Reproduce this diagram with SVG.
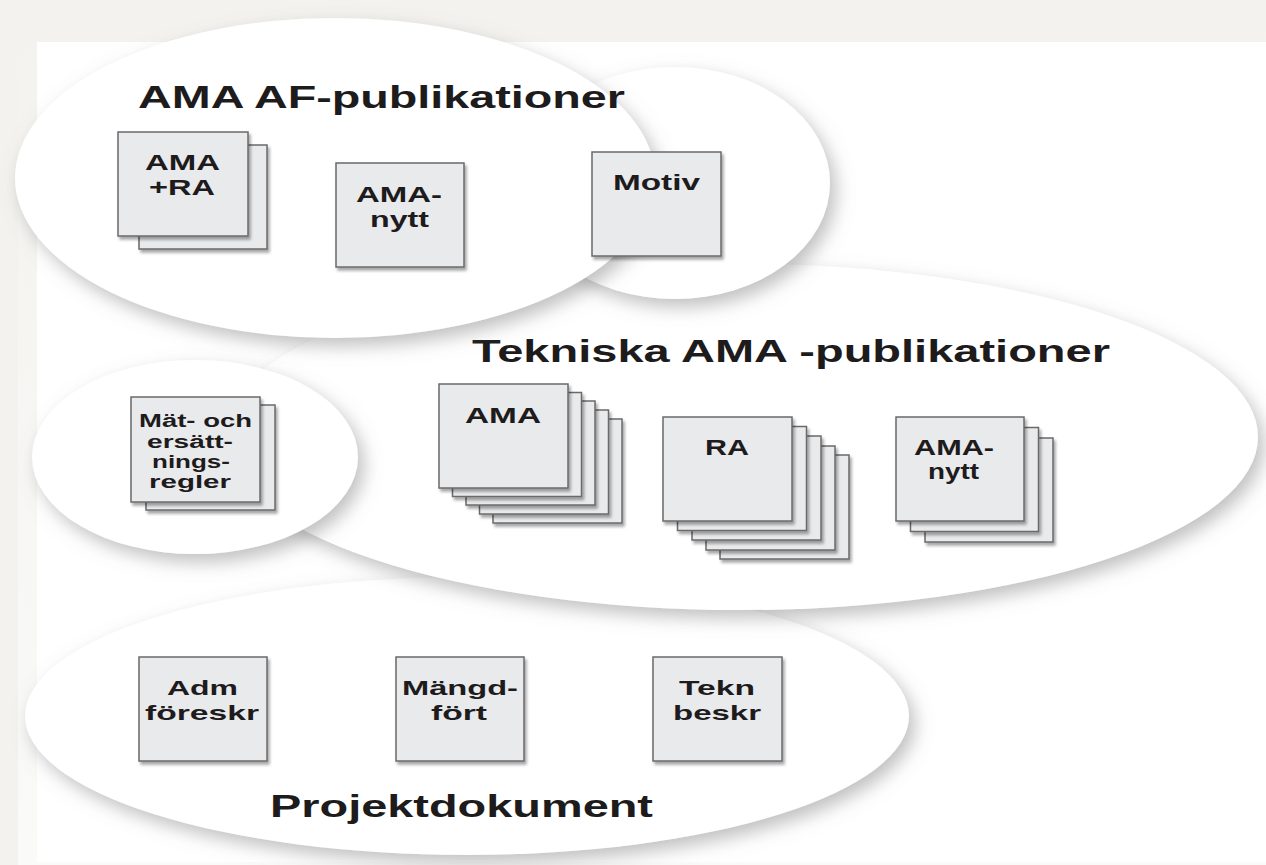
<svg xmlns="http://www.w3.org/2000/svg" width="1266" height="865" viewBox="0 0 1266 865">
<defs>
<filter id="es" x="-10%" y="-15%" width="125%" height="145%">
<feDropShadow dx="6" dy="8" stdDeviation="9" flood-color="#808080" flood-opacity="0.5"/>
</filter>
<filter id="ds" x="-10%" y="-10%" width="130%" height="130%">
<feDropShadow dx="2" dy="3" stdDeviation="1.6" flood-color="#000" flood-opacity="0.35"/>
</filter>
<linearGradient id="topfade" x1="0" y1="0" x2="0" y2="1">
<stop offset="0" stop-color="#f3f2ee"/><stop offset="1" stop-color="#fafaf9"/>
</linearGradient>
</defs>
<style>
.ell{fill:#ffffff;filter:url(#es)}
.doc{fill:#e9eaec;stroke:#6a6a6a;stroke-width:1.5;filter:url(#ds)}
.t{font-family:"Liberation Sans",Arial,sans-serif;font-weight:bold;fill:#1e1b1c}
.title{font-size:31px}
.lb{font-size:22px}
.ls{font-size:18px}
.lp{font-size:21px}
</style>
<rect x="0" y="0" width="1266" height="865" fill="#f3f2ee"/>
<rect x="18" y="13" width="1248" height="852" fill="url(#topfade)"/>
<rect x="37" y="42" width="1229" height="820" fill="#ffffff"/>

<g id="projektdokument">
<ellipse class="ell" cx="467" cy="716" rx="442" ry="139"/>
<text class="t title" x="270" y="817" textLength="383" lengthAdjust="spacingAndGlyphs">Projektdokument</text>
</g>

<g id="tekniska">
<ellipse class="ell" cx="740" cy="437" rx="518" ry="173"/>
<text class="t title" x="472" y="362" textLength="638" lengthAdjust="spacingAndGlyphs">Tekniska AMA -publikationer</text>
</g>

<g id="matregler-ellipse">
<ellipse class="ell" cx="195" cy="457" rx="163" ry="97"/>
</g>

<g id="af">
<ellipse class="ell" cx="675" cy="183" rx="155" ry="116"/>
<ellipse class="ell" cx="335" cy="178" rx="320" ry="160"/>
<text class="t title" x="138" y="108" textLength="487" lengthAdjust="spacingAndGlyphs">AMA AF-publikationer</text>
</g>

<g id="doc-ama-ra">
<rect class="doc" x="139" y="145" width="128" height="104"/>
<rect class="doc" x="118" y="132" width="130" height="104"/>
<text class="t lb" x="145" y="170" textLength="75" lengthAdjust="spacingAndGlyphs">AMA</text>
<text class="t lb" x="149" y="195" textLength="66" lengthAdjust="spacingAndGlyphs">+RA</text>
</g>

<g id="doc-ama-nytt-af">
<rect class="doc" x="336" y="163" width="128" height="104"/>
<text class="t lb" x="356" y="202" textLength="86" lengthAdjust="spacingAndGlyphs">AMA-</text>
<text class="t lb" x="370" y="227" textLength="59" lengthAdjust="spacingAndGlyphs">nytt</text>
</g>

<g id="doc-motiv">
<rect class="doc" x="592" y="152" width="129" height="104"/>
<text class="t lb" x="613" y="190" textLength="87" lengthAdjust="spacingAndGlyphs">Motiv</text>
</g>

<g id="doc-matregler">
<rect class="doc" x="146" y="405" width="129" height="105"/>
<rect class="doc" x="131" y="397" width="129" height="105"/>
<text class="t ls" x="139" y="427" textLength="113" lengthAdjust="spacingAndGlyphs">Mät- och</text>
<text class="t ls" x="147" y="448" textLength="86" lengthAdjust="spacingAndGlyphs">ersätt-</text>
<text class="t ls" x="152" y="468" textLength="78" lengthAdjust="spacingAndGlyphs">nings-</text>
<text class="t ls" x="149" y="488" textLength="82" lengthAdjust="spacingAndGlyphs">regler</text>
</g>

<g id="doc-ama-stack">
<rect class="doc" x="493" y="419" width="129" height="104"/>
<rect class="doc" x="479.5" y="410" width="129" height="104"/>
<rect class="doc" x="466" y="401" width="129" height="104"/>
<rect class="doc" x="452.5" y="392.5" width="129" height="104"/>
<rect class="doc" x="439" y="384" width="129" height="104"/>
<text class="t lb" x="465" y="423" textLength="76" lengthAdjust="spacingAndGlyphs">AMA</text>
</g>

<g id="doc-ra-stack">
<rect class="doc" x="720" y="455" width="129" height="104"/>
<rect class="doc" x="706" y="446" width="129" height="104"/>
<rect class="doc" x="692" y="436" width="129" height="104"/>
<rect class="doc" x="677.5" y="426.5" width="129" height="104"/>
<rect class="doc" x="663" y="417" width="129" height="104"/>
<text class="t lb" x="705" y="455" textLength="44" lengthAdjust="spacingAndGlyphs">RA</text>
</g>

<g id="doc-ama-nytt-stack">
<rect class="doc" x="925" y="438" width="128" height="104"/>
<rect class="doc" x="910.5" y="427.5" width="128" height="104"/>
<rect class="doc" x="896" y="417" width="128" height="104"/>
<text class="t lb" x="914" y="455" textLength="80" lengthAdjust="spacingAndGlyphs">AMA-</text>
<text class="t lb" x="928" y="479" textLength="51" lengthAdjust="spacingAndGlyphs">nytt</text>
</g>

<g id="doc-adm">
<rect class="doc" x="139" y="657" width="128" height="104"/>
<text class="t lp" x="167" y="695" textLength="71" lengthAdjust="spacingAndGlyphs">Adm</text>
<text class="t lp" x="145" y="720" textLength="114" lengthAdjust="spacingAndGlyphs">föreskr</text>
</g>

<g id="doc-mangd">
<rect class="doc" x="396" y="657" width="128" height="104"/>
<text class="t lp" x="402" y="695" textLength="116" lengthAdjust="spacingAndGlyphs">Mängd-</text>
<text class="t lp" x="431" y="720" textLength="56" lengthAdjust="spacingAndGlyphs">fört</text>
</g>

<g id="doc-tekn">
<rect class="doc" x="653" y="657" width="129" height="104"/>
<text class="t lp" x="679" y="695" textLength="76" lengthAdjust="spacingAndGlyphs">Tekn</text>
<text class="t lp" x="673" y="720" textLength="88" lengthAdjust="spacingAndGlyphs">beskr</text>
</g>

<g id="connectors"></g>
</svg>
